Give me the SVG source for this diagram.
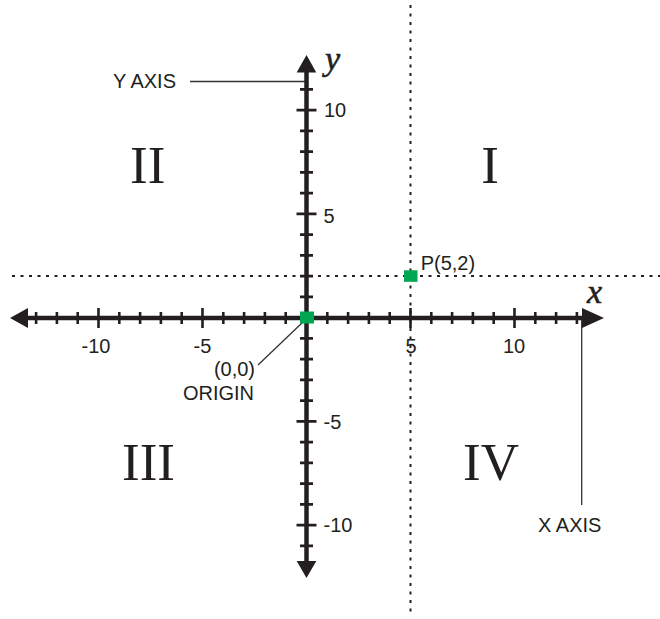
<svg xmlns="http://www.w3.org/2000/svg" width="660" height="619" viewBox="0 0 660 619">
<style>
.axis{stroke:#231f20;stroke-width:4.5;fill:none}
.tick{stroke:#231f20;stroke-width:2.6;fill:none}
.head{fill:#231f20}
.dot{stroke:#231f20;stroke-width:2;stroke-dasharray:3 5.5;fill:none}
.lead{stroke:#333;stroke-width:1.3;fill:none}
.lbl{font-family:"Liberation Sans",Arial,sans-serif;font-size:20px;fill:#231f20}
.roman{font-family:"Liberation Serif","Times New Roman",serif;font-size:53px;fill:#231f20}
.var{font-family:"Liberation Serif","Times New Roman",serif;font-style:italic;font-size:34px;fill:#231f20;stroke:#231f20;stroke-width:0.6}
.pt{fill:#00a651}
</style>
<rect width="660" height="619" fill="#fff"/>
<g id="guides">
<path class="dot" d="M12 276.1H660"/>
<path class="dot" d="M410.5 5V617"/>
</g>
<g id="connectors">
<path class="lead" d="M190 81.5H306.5"/>
<path class="lead" d="M581.7 320V505"/>
<path class="lead" d="M303 322L258 365"/>
</g>
<g id="x-axis">
<path class="axis" d="M26 318H584"/>
<polygon class="head" points="10,318 28,308 28,328"/>
<polygon class="head" points="604,318 582,308 582,328"/>
<path class="tick" d="M36.1 312V324M56.9 312V324M77.7 312V324M119.3 312V324M140.1 312V324M160.9 312V324M181.7 312V324M223.3 312V324M244.1 312V324M264.9 312V324M285.7 312V324M327.3 312V324M348.1 312V324M368.9 312V324M389.7 312V324M431.3 312V324M452.1 312V324M472.9 312V324M493.7 312V324M535.3 312V324M556.1 312V324M576.9 312V324"/>
<path class="tick" d="M98.5 308V328M202.5 308V328M410.5 308V328M514.5 308V328"/>
<text class="lbl" x="96" y="353.3" text-anchor="middle">-10</text>
<text class="lbl" x="202.5" y="353.3" text-anchor="middle">-5</text>
<text class="lbl" x="411" y="353.3" text-anchor="middle">5</text>
<text class="lbl" x="514" y="353.3" text-anchor="middle">10</text>
<text class="var" x="587" y="303">x</text>
</g>
<g id="y-axis">
<path class="axis" d="M306.5 70V563"/>
<polygon class="head" points="306.5,55 296.7,72.5 316.3,72.5"/>
<polygon class="head" points="306.5,578 296.7,561 316.3,561"/>
<path class="tick" d="M300 89.35H313M300 130.85H313M300 151.6H313M300 172.35H313M300 193.1H313M300 234.6H313M300 255.35H313M300 276.1H313M300 296.85H313M300 338.35H313M300 359.1H313M300 379.85H313M300 400.6H313M300 442.1H313M300 462.85H313M300 483.6H313M300 504.35H313M300 545.85H313"/>
<path class="tick" d="M296.5 110.1H316.5M296.5 213.85H316.5M296.5 421.35H316.5M296.5 525.1H316.5"/>
<text class="lbl" x="324" y="117.3">10</text>
<text class="lbl" x="323.5" y="222.5">5</text>
<text class="lbl" x="323.5" y="428.5">-5</text>
<text class="lbl" x="323.5" y="532">-10</text>
<text class="var" x="325" y="70">y</text>
</g>
<g id="quadrant-I"><text class="roman" x="490" y="183" text-anchor="middle">I</text></g>
<g id="quadrant-II"><text class="roman" x="130" y="183">II</text></g>
<g id="quadrant-III"><text class="roman" x="122" y="479.5">III</text></g>
<g id="quadrant-IV"><text class="roman" x="463" y="479.5">IV</text></g>
<g id="y-axis-label"><text class="lbl" x="113" y="88.3">Y AXIS</text></g>
<g id="x-axis-label"><text class="lbl" x="538" y="531.7">X AXIS</text></g>
<g id="origin">
<rect class="pt" x="300" y="311.5" width="14" height="12"/>
<text class="lbl" x="255" y="375.5" text-anchor="end">(0,0)</text>
<text class="lbl" x="254" y="399.5" text-anchor="end">ORIGIN</text>
</g>
<g id="point-P">
<rect class="pt" x="404" y="270.3" width="13.5" height="11.5"/>
<text class="lbl" x="420.7" y="270">P(5,2)</text>
</g>
</svg>
